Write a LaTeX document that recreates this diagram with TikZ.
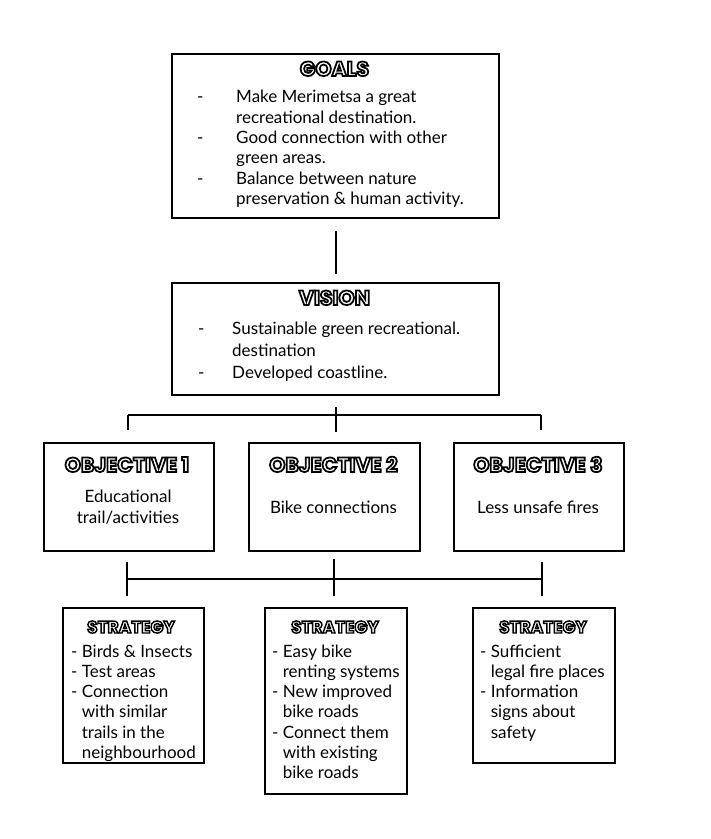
\documentclass[tikz,border=0pt]{standalone}
\usepackage{fontspec}
\setmainfont{Lato}
\newfontfamily\ofont{Poppins}[FakeBold=8.5]
\usetikzlibrary{calc}
% outlined heading text: white fill, black stroke (text render mode 2 via FakeBold)
\newcommand\outl[1]{\special{pdf:bcolor [1 1 1] [0 0 0]}#1\special{pdf:ecolor}}
\begin{document}
\begin{tikzpicture}[x=1pt,y=-1pt,
  box/.style={draw=black, line width=2pt, anchor=north west, inner sep=0pt},
  txt/.style={anchor=base west, inner sep=0pt, font=\fontsize{17}{20}\selectfont},
  ctxt/.style={anchor=base, inner sep=0pt, font=\fontsize{17}{20}\selectfont},
  head/.style={anchor=base, inner sep=0pt, font=\ofont\bfseries\fontsize{20.5}{20}\selectfont},
  shead/.style={anchor=base, inner sep=0pt, font=\ofont\bfseries\fontsize{17}{18}\selectfont},
  conn/.style={line width=2pt},
  thinconn/.style={line width=1.5pt}]
\fill[white] (0,0) rectangle (711,839);
\useasboundingbox (0,0) rectangle (711,839);

% boxes
\node[box, minimum width=327pt, minimum height=164pt] (goals) at (171,53) {};
\node[box, minimum width=327pt, minimum height=112pt] (vision) at (171,282) {};
\node[box, minimum width=170pt, minimum height=108pt] (obj1) at (43,442) {};
\node[box, minimum width=171pt, minimum height=108pt] (obj2) at (248,442) {};
\node[box, minimum width=170pt, minimum height=108pt] (obj3) at (453,442) {};
\node[box, minimum width=141pt, minimum height=155pt] (str1) at (62,607) {};
\node[box, minimum width=142pt, minimum height=186pt] (str2) at (264,607) {};
\node[box, minimum width=142pt, minimum height=155pt] (str3) at (472,607) {};

% goals
\node[head] (goalsh) at (334.5,76) {\outl{GOALS}};
\foreach \t [count=\i] in {Make Merimetsa a great, recreational destination., Good connection with other, green areas., Balance between nature, preservation \& human activity.}
  \node[txt] (g\i) at (236, 82.5+20.3*\i) {\t};
\foreach \i in {1,3,5} \node[txt] (gd\i) at (197, 82.5+20.3*\i) {-};

% vision
\node[head] (visionh) at (334.5,305) {\outl{VISION}};
\node[txt] (v1) at (232,334) {Sustainable green recreational.};
\node[txt] (v2) at (232,356) {destination};
\node[txt] (v3) at (232,378) {Developed coastline.};
\node[txt] (vd1) at (198,334) {-};
\node[txt] (vd3) at (198,378) {-};

% objectives
\node[head] (o1h) at (127,472) {\outl{OBJECTIVE 1}};
\node[head] (o2h) at (333.5,472) {\outl{OBJECTIVE 2}};
\node[head] (o3h) at (538,472) {\outl{OBJECTIVE 3}};
\node[ctxt] (o1a) at (128,502) {Educational};
\node[ctxt] (o1b) at (128,523) {trail/activities};
\node[ctxt] (o2a) at (333.5,513) {Bike connections};
\node[ctxt] (o3a) at (538,513) {Less unsafe fires};

% strategies
\node[shead] (s1h) at (131,633) {\outl{STRATEGY}};
\node[shead] (s2h) at (335,633) {\outl{STRATEGY}};
\node[shead] (s3h) at (543,633) {\outl{STRATEGY}};
\foreach \t [count=\i] in {{- Birds \& Insects},{- Test areas},{- Connection},{\hphantom{- }with similar},{\hphantom{- }trails in the},{\hphantom{- }neighbourhood}}
  \node[txt] (sa\i) at (71, 636.7+20.3*\i) {\t};
\foreach \t [count=\i] in {{- Easy bike},{\hphantom{- }renting systems},{- New improved},{\hphantom{- }bike roads},{- Connect them},{\hphantom{- }with existing},{\hphantom{- }bike roads}}
  \node[txt] (sb\i) at (272, 636.7+20.3*\i) {\t};
\foreach \t [count=\i] in {{- Sufficient},{\hphantom{- }legal fire places},{- Information},{\hphantom{- }signs about},{\hphantom{- }safety}}
  \node[txt] (sc\i) at (480, 636.7+20.3*\i) {\t};

% connectors
\draw[conn] ($(goals.south)+(0,12)$) -- ($(vision.north)+(0,-8)$);
\coordinate (u1) at (128,415);
\coordinate (u2) at (334.5,415);
\coordinate (u3) at (541,415);
\draw[conn] (u1) -- (u3);
\draw[conn] ($(vision.south)+(0,11)$) -- ($(vision.south)+(0,36)$);
\draw[conn] (u1) -- ($(u1)+(0,15)$);
\draw[conn] (u3) -- ($(u3)+(0,15)$);
\coordinate (l1) at (127,579);
\coordinate (l2) at (334,579);
\coordinate (l3) at (542,579);
\draw[thinconn] (l1) -- (l3);
\draw[conn] ($(l1)+(0,-17)$) -- ($(l1)+(0,17)$);
\draw[conn] ($(l2)+(0,-20)$) -- ($(l2)+(0,17)$);
\draw[conn] ($(l3)+(0,-17)$) -- ($(l3)+(0,17)$);
\end{tikzpicture}
\end{document}
